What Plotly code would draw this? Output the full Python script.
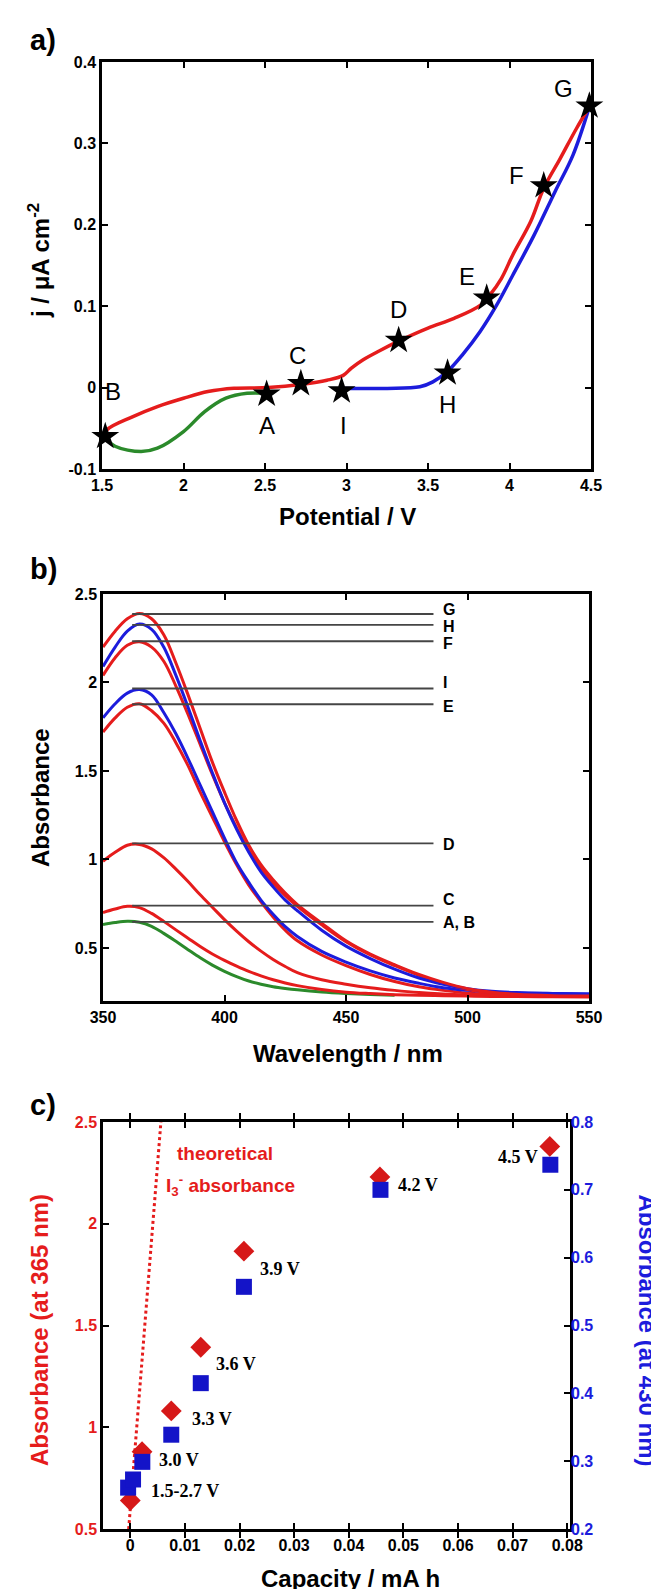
import plotly.graph_objects as go

W, H = 659, 1589
FONT = "Liberation Sans, Arial, sans-serif"
SERIF = "Liberation Serif, Times New Roman, serif"
RED = "#e51c1c"
BLUE = "#1c1cdc"
GREEN = "#2b8a2b"

# ---------------- Panel a: cyclic voltammogram ----------------
red_a_x = [1.52, 1.53, 1.69, 1.84, 2.0, 2.15, 2.31, 2.52, 2.73, 2.88, 2.98, 3.03, 3.1, 3.2, 3.32, 3.5, 3.66, 3.82, 3.88, 3.95, 4.02, 4.13, 4.21, 4.31, 4.41, 4.49]
red_a_y = [-0.060, -0.052, -0.0356, -0.0233, -0.0131, -0.0049, -0.0008, 0.0, 0.004, 0.009, 0.015, 0.024, 0.034, 0.045, 0.057, 0.073, 0.085, 0.101, 0.114, 0.134, 0.163, 0.204, 0.245, 0.281, 0.318, 0.345]
blue_a_x = [2.97, 3.25, 3.45, 3.53, 3.62, 3.71, 3.82, 3.92, 4.02, 4.15, 4.28, 4.39, 4.49]
blue_a_y = [-0.001, -0.001, 0.001, 0.007, 0.020, 0.040, 0.069, 0.101, 0.138, 0.187, 0.241, 0.286, 0.345]
green_a_x = [1.51, 1.58, 1.74, 1.84, 2.0, 2.13, 2.26, 2.39, 2.51]
green_a_y = [-0.060, -0.072, -0.0786, -0.0745, -0.054, -0.0295, -0.013, -0.007, -0.007]
star_names = ["A", "B", "C", "D", "E", "F", "G", "H", "I"]
star_x = [2.51, 1.52, 2.72, 3.32, 3.86, 4.21, 4.49, 3.62, 2.97]
star_y = [-0.008, -0.060, 0.005, 0.058, 0.110, 0.248, 0.346, 0.018, -0.004]
star_lab_x = [2.51, 1.57, 2.70, 3.32, 3.74, 4.04, 4.33, 3.62, 2.98]
star_lab_y = [-0.046, -0.005, 0.040, 0.096, 0.136, 0.261, 0.368, -0.021, -0.046]
a_xticks = [1.5, 2, 2.5, 3, 3.5, 4, 4.5]
a_xtext = ["1.5", "2", "2.5", "3", "3.5", "4", "4.5"]
a_yticks = [-0.1, 0, 0.1, 0.2, 0.3, 0.4]
a_ytext = ["-0.1", "0", "0.1", "0.2", "0.3", "0.4"]

# ---------------- Panel b: UV-vis spectra ----------------
wl = [350, 355, 360, 365, 370, 375, 380, 385, 390, 395, 400, 405, 410, 415, 420, 425, 430,
      440, 450, 460, 470, 480, 490, 500, 510, 520, 535, 550]
spec_G = [2.20, 2.29, 2.36, 2.39, 2.36, 2.27, 2.11, 1.93, 1.74, 1.55, 1.38, 1.22, 1.08, 0.97, 0.885, 0.81, 0.745,
          0.64, 0.54, 0.465, 0.405, 0.35, 0.305, 0.27, 0.25, 0.238, 0.23, 0.228]
spec_H = [2.09, 2.20, 2.29, 2.33, 2.30, 2.20, 2.04, 1.86, 1.67, 1.49, 1.32, 1.17, 1.04, 0.93, 0.845, 0.77, 0.71,
          0.60, 0.51, 0.44, 0.38, 0.33, 0.295, 0.27, 0.255, 0.248, 0.243, 0.24]
spec_F = [2.04, 2.14, 2.21, 2.23, 2.20, 2.12, 1.98, 1.82, 1.65, 1.48, 1.32, 1.18, 1.05, 0.95, 0.865, 0.795, 0.735,
          0.63, 0.535, 0.46, 0.40, 0.345, 0.30, 0.265, 0.245, 0.235, 0.228, 0.225]
spec_I = [1.80, 1.88, 1.94, 1.96, 1.93, 1.83, 1.71, 1.57, 1.42, 1.27, 1.12, 0.98, 0.87, 0.77, 0.69, 0.62, 0.565,
          0.48, 0.42, 0.37, 0.33, 0.30, 0.275, 0.26, 0.25, 0.245, 0.242, 0.24]
spec_E = [1.72, 1.80, 1.86, 1.88, 1.84, 1.77, 1.66, 1.53, 1.38, 1.24, 1.10, 0.97, 0.855, 0.76, 0.675, 0.60, 0.54,
          0.46, 0.40, 0.35, 0.31, 0.28, 0.26, 0.245, 0.237, 0.232, 0.228, 0.225]
spec_D = [0.99, 1.04, 1.08, 1.085, 1.06, 1.01, 0.945, 0.875, 0.80, 0.73, 0.66, 0.595, 0.535, 0.482, 0.435, 0.395, 0.36,
          0.32, 0.295, 0.275, 0.26, 0.248, 0.24, 0.235, 0.232, 0.23, 0.228, 0.226]
spec_C = [0.70, 0.72, 0.735, 0.728, 0.695, 0.65, 0.602, 0.555, 0.508, 0.466, 0.43, 0.397, 0.367, 0.342, 0.32, 0.302, 0.287,
          0.265, 0.25, 0.242, 0.236, 0.232, 0.23, 0.228, 0.226, 0.225, 0.224, 0.223]
spec_AB = [0.632, 0.643, 0.65, 0.645, 0.622, 0.582, 0.537, 0.49, 0.444, 0.403, 0.368, 0.338, 0.313, 0.295, 0.281, 0.271, 0.263,
           0.251, 0.243, 0.237, 0.233]
peak_labels = ["G", "H", "F", "I", "E", "D", "C", "A, B"]
peak_vals = [2.387, 2.325, 2.233, 1.966, 1.877, 1.091, 0.739, 0.647]
peak_label_y = [2.412, 2.316, 2.218, 2.001, 1.862, 1.083, 0.773, 0.641]
peak_line_x = [362, 486]
b_xticks = [350, 400, 450, 500, 550]
b_yticks = [0.5, 1, 1.5, 2, 2.5]
b_ytext = ["0.5", "1", "1.5", "2", "2.5"]

# ---------------- Panel c: absorbance vs capacity ----------------
cap_red = [0.0, 0.00215, 0.0075, 0.0129, 0.0208, 0.0457, 0.0768]
abs365 = [0.64, 0.88, 1.08, 1.393, 1.865, 2.23, 2.38]
cap_blue = [-0.0004, 0.0005, 0.0022, 0.0075, 0.0129, 0.0208, 0.0458, 0.0769]
abs430 = [0.261, 0.273, 0.299, 0.339, 0.415, 0.557, 0.70, 0.737]
theo_x = [-0.0003, 0.0056]
theo_y = [0.5, 2.5]
volt_labels = ["1.5-2.7 V", "3.0 V", "3.3 V", "3.6 V", "3.9 V", "4.2 V", "4.5 V"]
volt_x = [0.0034, 0.0049, 0.01085, 0.0153, 0.0233, 0.0487, 0.067]
volt_y = [0.686, 0.84, 1.04, 1.31, 1.78, 2.19, 2.33]
c_xticks = [0, 0.01, 0.02, 0.03, 0.04, 0.05, 0.06, 0.07, 0.08]
c_xtext = ["0", "0.01", "0.02", "0.03", "0.04", "0.05", "0.06", "0.07", "0.08"]
c_yticks = [0.5, 1, 1.5, 2, 2.5]
c_y2ticks = [0.2, 0.3, 0.4, 0.5, 0.6, 0.7, 0.8]


def dx(x0, x1):
    return [x0 / W, x1 / W]


def dy(y0, y1):
    return [1 - y1 / H, 1 - y0 / H]


def P(x, y):
    return x / W, 1 - y / H


fig = go.Figure()

# panel a traces
fig.add_trace(go.Scatter(x=green_a_x, y=green_a_y, mode="lines", line=dict(color=GREEN, width=3.5, shape="spline"),
                         xaxis="x", yaxis="y"))
fig.add_trace(go.Scatter(x=blue_a_x, y=blue_a_y, mode="lines", line=dict(color=BLUE, width=3.5, shape="spline"),
                         xaxis="x", yaxis="y"))
fig.add_trace(go.Scatter(x=red_a_x, y=red_a_y, mode="lines", line=dict(color=RED, width=3.5, shape="spline"),
                         xaxis="x", yaxis="y"))
fig.add_trace(go.Scatter(x=star_x, y=star_y, mode="markers", marker=dict(symbol="star", size=21, color="black"),
                         cliponaxis=False, xaxis="x", yaxis="y"))

# panel b traces
fig.add_trace(go.Scatter(x=wl[:len(spec_AB)], y=spec_AB, mode="lines", line=dict(color=GREEN, width=3, shape="spline"),
                         xaxis="x2", yaxis="y2"))
for ys, col in [(spec_C, RED), (spec_D, RED), (spec_E, RED), (spec_I, BLUE), (spec_F, RED), (spec_H, BLUE), (spec_G, RED)]:
    fig.add_trace(go.Scatter(x=wl, y=ys, mode="lines", line=dict(color=col, width=3, shape="spline"),
                             xaxis="x2", yaxis="y2"))
for v in peak_vals:
    fig.add_trace(go.Scatter(x=peak_line_x, y=[v, v], mode="lines", line=dict(color="#454545", width=1.8),
                             xaxis="x2", yaxis="y2"))

# panel c traces
fig.add_trace(go.Scatter(x=theo_x, y=theo_y, mode="lines", line=dict(color=RED, width=3, dash="dot"),
                         xaxis="x3", yaxis="y3"))
fig.add_trace(go.Scatter(x=cap_red, y=abs365, mode="markers",
                         marker=dict(symbol="diamond", size=16, color="#d61818"), cliponaxis=False,
                         xaxis="x3", yaxis="y3"))
fig.add_trace(go.Scatter(x=cap_blue, y=abs430, mode="markers",
                         marker=dict(symbol="square", size=16, color="#1414c8"), cliponaxis=False,
                         xaxis="x3", yaxis="y4"))

tickfont = dict(family=FONT, size=16, color="black", weight="bold")
base = dict(showline=True, linecolor="black", linewidth=2.5, ticks="inside", ticklen=6, tickwidth=2,
            tickcolor="black", showgrid=False, zeroline=False, tickfont=tickfont, automargin=False)

fig.update_layout(
    width=W, height=H, margin=dict(l=0, r=0, t=0, b=0),
    paper_bgcolor="white", plot_bgcolor="white", showlegend=False,
    xaxis=dict(base, domain=dx(94, 583), range=[1.5, 4.5], tickvals=a_xticks, ticktext=a_xtext,
               mirror="allticks", anchor="y"),
    yaxis=dict(base, domain=dy(54, 461), range=[-0.1, 0.4], tickvals=a_yticks, ticktext=a_ytext,
               mirror="allticks", anchor="x"),
    xaxis2=dict(base, domain=dx(95, 581), range=[350, 550], tickvals=b_xticks,
                mirror="allticks", anchor="y2"),
    yaxis2=dict(base, domain=dy(586, 993), range=[0.2, 2.5], tickvals=b_yticks, ticktext=b_ytext,
                mirror="allticks", anchor="x2"),
    xaxis3=dict(base, domain=dx(95, 562), range=[-0.005, 0.0805], tickvals=c_xticks, ticktext=c_xtext,
                mirror="allticks", anchor="y3"),
    yaxis3=dict(base, domain=dy(1114, 1521), range=[0.5, 2.5], tickvals=c_yticks, ticktext=b_ytext,
                mirror=True, anchor="x3", tickfont=dict(family=FONT, size=16, color=RED, weight="bold")),
    yaxis4=dict(showline=False, ticks="inside", ticklen=6, tickwidth=2, tickcolor="black", showgrid=False,
                zeroline=False, automargin=False, overlaying="y3", side="right", anchor="x3",
                range=[0.2, 0.8], tickvals=c_y2ticks,
                tickfont=dict(family=FONT, size=16, color=BLUE, weight="bold")),
)

ann = []
# panel letters
for lab, (xx, yy) in [("a)", (20, 32)), ("b)", (20, 561)), ("c)", (20, 1097))]:
    px, py = P(xx, yy)
    ann.append(dict(text=lab, x=px, y=py, xref="paper", yref="paper", xanchor="left", yanchor="middle",
                    showarrow=False, font=dict(family=FONT, size=29, color="black", weight="bold")))
# axis titles
title_font = dict(family=FONT, size=24, color="black", weight="bold")
for txt, (xx, yy), ang, col in [
    ("Potential / V", (339, 508), 0, "black"),
    ("j / \u03bcA cm<sup>-2</sup>", (31, 253), -90, "black"),
    ("Wavelength / nm", (340, 1045), 0, "black"),
    ("Absorbance", (33, 790), -90, "black"),
    ("Capacity / mA h", (342, 1570), 0, "black"),
    ("Absorbance (at 365 nm)", (31, 1322), -90, RED),
]:
    px, py = P(xx, yy)
    ann.append(dict(text=txt, x=px, y=py, xref="paper", yref="paper", xanchor="center", yanchor="middle",
                    textangle=ang, showarrow=False, font=dict(title_font, color=col)))
# right-side title, reading top to bottom
px, py = P(655, 1322)
ann.append(dict(text="Absorbance (at 430 nm)", x=px, y=py, xref="paper", yref="paper", xanchor="right",
                yanchor="middle", textangle=90, showarrow=False, font=dict(title_font, color=BLUE)))
# star labels panel a
for n, xx, yy in zip(star_names, star_lab_x, star_lab_y):
    ann.append(dict(text=n, x=xx, y=yy, xref="x", yref="y", showarrow=False, xanchor="center", yanchor="middle",
                    font=dict(family=FONT, size=24, color="black")))
# peak labels panel b
for n, yy in zip(peak_labels, peak_label_y):
    ann.append(dict(text=n, x=489, y=yy, xref="x2", yref="y2", showarrow=False, xanchor="left", yanchor="middle",
                    font=dict(family=FONT, size=16, color="black", weight="bold")))
# voltage labels panel c
for n, xx, yy in zip(volt_labels, volt_x, volt_y):
    ann.append(dict(text=n, x=xx, y=yy, xref="x3", yref="y3", showarrow=False, xanchor="left", yanchor="middle",
                    font=dict(family=SERIF, size=18, color="black", weight="bold")))
ann.append(dict(text="theoretical", x=0.0082, y=2.344, xref="x3", yref="y3", showarrow=False, xanchor="left",
                yanchor="middle", font=dict(family=FONT, size=19, color=RED, weight="bold")))
ann.append(dict(text="I<sub>3</sub><sup>-</sup> absorbance", x=0.0061, y=2.19, xref="x3", yref="y3", showarrow=False,
                xanchor="left", yanchor="middle", font=dict(family=FONT, size=19, color=RED, weight="bold")))
fig.update_layout(annotations=ann)

fig.write_html("out.html")
